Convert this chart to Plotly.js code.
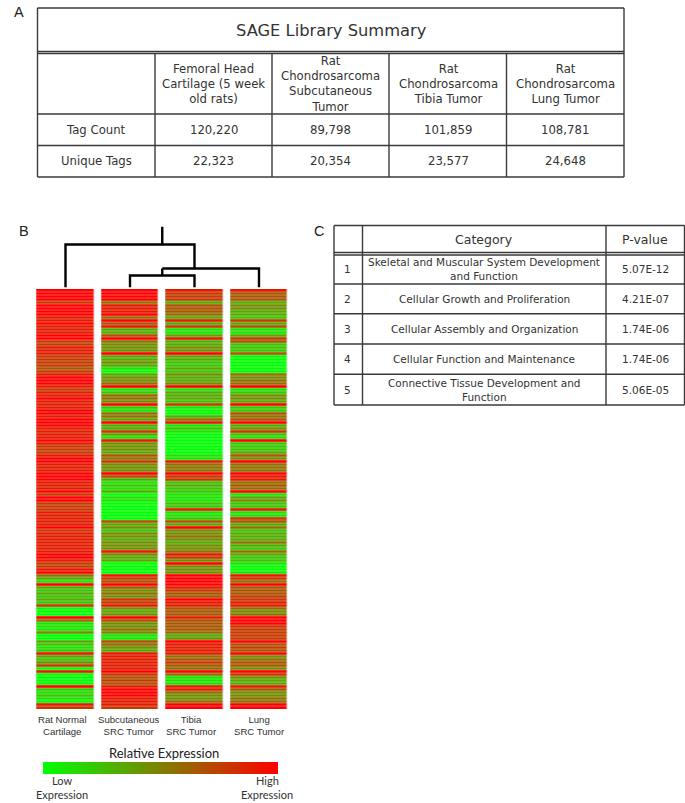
<!DOCTYPE html>
<html><head><meta charset="utf-8">
<script src="https://cdn.plot.ly/plotly-3.0.1.min.js"></script>
<style>html,body{margin:0;padding:0;background:#fff}</style></head>
<body><div id="chart" style="width:685px;height:803px"></div>
<script>
// Expression level per row (0 = lowest, 9 = highest), read top to bottom.
const ratNormalCartilage = [
 9,9,9,9,7,9,9,9,9,8,8,9,8,8,8,9,9,7,7,8,8,8,7,
 7,7,7,6,7,8,9,9,9,8,7,8,8,9,8,8,8,9,9,8,9,9,9,
 8,8,8,8,9,8,7,7,7,8,9,9,8,8,8,9,9,9,8,8,8,9,7,
 9,9,7,7,7,8,8,8,8,8,9,7,8,8,8,8,8,8,8,9,9,8,7,
 7,8,9,5,3,1,9,3,2,3,2,3,2,7,0,0,0,9,5,1,1,1,4,
 0,0,3,2,1,2,8,3,2,4,7,0,8,0,0,0,0,9,2,1,2,1,0,8,7];
const subcutaneousTumor = [
 9,9,9,9,5,8,8,8,9,5,9,6,8,3,3,6,9,5,4,4,4,9,3,
 3,4,3,1,0,3,4,4,5,9,1,2,5,5,4,9,2,1,5,5,3,9,3,
 3,7,3,1,8,4,4,4,3,6,5,7,4,4,4,9,6,3,1,2,1,3,0,
 1,1,0,0,0,0,0,0,6,3,4,2,4,4,3,4,4,4,8,4,3,3,0,
 0,0,0,8,7,6,9,6,4,5,4,7,7,8,4,3,4,9,6,4,4,5,4,
 1,1,6,5,4,3,8,8,8,8,8,8,9,7,6,7,6,8,9,9,9,8,8,8,7];
const tibiaTumor = [
 8,7,7,7,3,6,6,6,5,3,8,3,7,1,1,3,8,3,3,4,4,9,3,
 3,2,2,3,2,4,3,3,4,9,1,3,3,3,2,7,1,0,0,3,5,8,1,
 2,1,0,0,0,0,0,0,0,1,1,8,5,5,5,9,7,7,2,3,2,2,1,
 1,1,2,2,8,1,1,2,6,3,9,4,4,5,4,3,4,4,5,8,7,4,9,
 4,4,4,9,9,9,9,8,7,6,6,9,8,8,6,6,6,8,6,6,6,6,5,
 3,4,9,8,8,8,8,5,6,7,6,5,9,5,1,1,1,8,8,5,4,4,5,9,9];
const lungTumor = [
 8,6,6,6,3,4,4,3,3,2,7,3,6,1,1,3,7,6,2,2,2,6,0,
 0,0,0,0,0,5,4,5,5,9,1,2,4,4,3,9,2,2,6,5,6,9,3,
 4,7,2,1,9,2,2,2,3,6,4,9,5,5,5,9,8,8,5,6,5,9,1,
 3,4,2,2,8,1,1,7,6,3,5,2,3,3,3,5,3,2,5,3,2,2,1,
 0,0,1,8,7,5,9,6,6,6,7,7,8,8,5,4,5,9,9,9,7,7,7,
 7,7,9,6,7,6,9,4,5,6,6,4,9,7,4,3,3,8,6,4,4,5,5,9,9];
const sampleLabels = ['Rat Normal<br>Cartilage','Subcutaneous<br>SRC Tumor','Tibia<br>SRC Tumor','Lung<br>SRC Tumor'];
const sampleLabelX = [63,129,191,259];
// Dendrogram: column position and merge height, broken by nulls
const dendroX = [0.0,0.0,2.0,2.0,null,1.5,1.5,null,1,1,2,2,null,1.5,3,3,null,1.5,1.5];
const dendroY = [0,43,43,19,null,43,61,null,0,12,12,0,null,19,19,0,null,12,19];

const tableATitle = 'SAGE Library Summary';
const tableAHead = ['Femoral Head<br>Cartilage (5 week<br>old rats)','Rat<br>Chondrosarcoma<br>Subcutaneous<br>Tumor','Rat<br>Chondrosarcoma<br>Tibia Tumor','Rat<br>Chondrosarcoma<br>Lung Tumor'];
const tableARowNames = ['Tag Count','Unique Tags'];
const tagCounts = ['120,220','89,798','101,859','108,781'];
const uniqueTags = ['22,323','20,354','23,577','24,648'];
const tableCHead = ['Category','P-value'];
const tableCCategories = ['Skeletal and Muscular System Development<br>and Function','Cellular Growth and Proliferation','Cellular Assembly and Organization','Cellular Function and Maintenance','Connective Tissue Development and<br>Function'];
const tableCPvalues = ['5.07E-12','4.21E-07','1.74E-06','1.74E-06','5.06E-05'];

const W=685,H=803, GREY='#3a3a3a', TXT='#333333';
const VER='"DejaVu Sans",Verdana,sans-serif', ARI='"Liberation Sans",Arial,sans-serif', LAT='Lato,"Open Sans",sans-serif';
const px=x=>x/W, py=y=>1-y/H;
const anns=[],shapes=[];
function T(x,y,text,size,family,color){anns.push({xref:'paper',yref:'paper',x:px(x),y:py(y),text,showarrow:false,xanchor:'center',yanchor:'middle',align:'center',font:{size,family,color:color||TXT}});}
function L(x0,y0,x1,y1,w){shapes.push({type:'line',xref:'paper',yref:'paper',x0:px(x0),y0:py(y0),x1:px(x1),y1:py(y1),line:{color:GREY,width:w||1.4}});}

// Panel letters
T(19,12,'A',14.5,ARI,'#222'); T(24,231,'B',14.5,ARI,'#222'); T(319,231,'C',14.5,ARI,'#222');

// Table A grid
const aLeft=37.5,aRight=624,aTop=8,aBot=177, aCols=[155,272,389,506.5], aRows=[114,145.5];
[aTop,51.5,53.5,...aRows,aBot].forEach(y=>L(aLeft,y,aRight,y));
[aLeft,aRight].forEach(x=>L(x,aTop,x,aBot));
aCols.forEach(x=>L(x,53.5,x,aBot));
T(331,30,tableATitle,16.3,VER);
const aCenters=[213.5,330.5,448,565];
tableAHead.forEach((t,i)=>T(aCenters[i],84,t,11.7,VER));
T(96,130,tableARowNames[0],11.7,VER); T(96,161,tableARowNames[1],11.7,VER);
tagCounts.forEach((t,i)=>T(aCenters[i],130,t,11.7,VER));
uniqueTags.forEach((t,i)=>T(aCenters[i],161,t,11.7,VER));

// Table C grid
const cLeft=334,cRight=684.5,cTop=225.5,cBot=405, cCols=[362.5,606], cRows=[284,313.8,344,374.3];
[cTop,252.5,255,...cRows,cBot].forEach(y=>L(cLeft,y,cRight,y));
[cLeft,cRight,...cCols].forEach(x=>L(x,cTop,x,cBot));
T(484,239,tableCHead[0],12.5,VER); T(645,239,tableCHead[1],12.5,VER);
const cY=[269,299,329,359,390];
tableCCategories.forEach((t,i)=>{T(348,cY[i],String(i+1),10.5,VER);T(484,cY[i],t,10.5,VER);T(645,cY[i],tableCPvalues[i],10.5,VER);});

// Column labels and legend labels
sampleLabels.forEach((t,i)=>T(sampleLabelX[i],725.5,t,9.6,ARI));
T(163.5,753,'Relative Expression',13,LAT,'#222');
T(62,780,'Low',11,LAT); T(62,794,'Expression',11,LAT);
T(267,780,'High',11,LAT); T(267,794,'Expression',11,LAT);

const z=ratNormalCartilage.map((_,r)=>[ratNormalCartilage[r],subcutaneousTumor[r],tibiaTumor[r],lungTumor[r]]);
// Faint pale line at each row boundary of the heatmap
z.forEach((_,r)=>{ if(r>0) shapes.push({type:'line',xref:'paper',yref:'y',x0:px(33),x1:px(292),y0:r-0.5,y1:r-0.5,opacity:0.32,line:{color:'#fff',width:1}}); });
const traces=[
 {type:'heatmap',z,x:[0,1,2,3],y:z.map((_,i)=>i),zmin:0,zmax:9,xgap:7.5,ygap:0,hoverinfo:'skip',
  colorscale:[[0,'rgb(0,255,0)'],[1,'rgb(255,0,0)']],
  colorbar:{orientation:'h',x:px(160.5),xanchor:'center',y:py(762),yanchor:'top',len:235,lenmode:'pixels',thickness:12,thicknessmode:'pixels',
    outlinewidth:0,borderwidth:0,xpad:0,ypad:0,ticks:'',showticklabels:false}},
 {type:'scatter',mode:'lines',x:dendroX,y:dendroY,yaxis:'y2',hoverinfo:'skip',showlegend:false,connectgaps:false,
  line:{color:'#000',width:2.4}}
];
const layout={width:W,height:H,margin:{l:0,r:0,t:0,b:0,autoexpand:false},paper_bgcolor:'#fff',plot_bgcolor:'#fff',showlegend:false,
 xaxis:{domain:[33.25/W,291.25/W],range:[-0.5,3.5],visible:false,fixedrange:true},
 yaxis:{domain:[1-709/H,1-289/H],range:[139.5,-0.5],visible:false,fixedrange:true},
 yaxis2:{domain:[1-287.5/H,1-226.5/H],range:[0,61],visible:false,fixedrange:true,anchor:'x'},
 annotations:anns,shapes};
Plotly.newPlot('chart',traces,layout,{displayModeBar:false,staticPlot:true});
</script></body></html>
